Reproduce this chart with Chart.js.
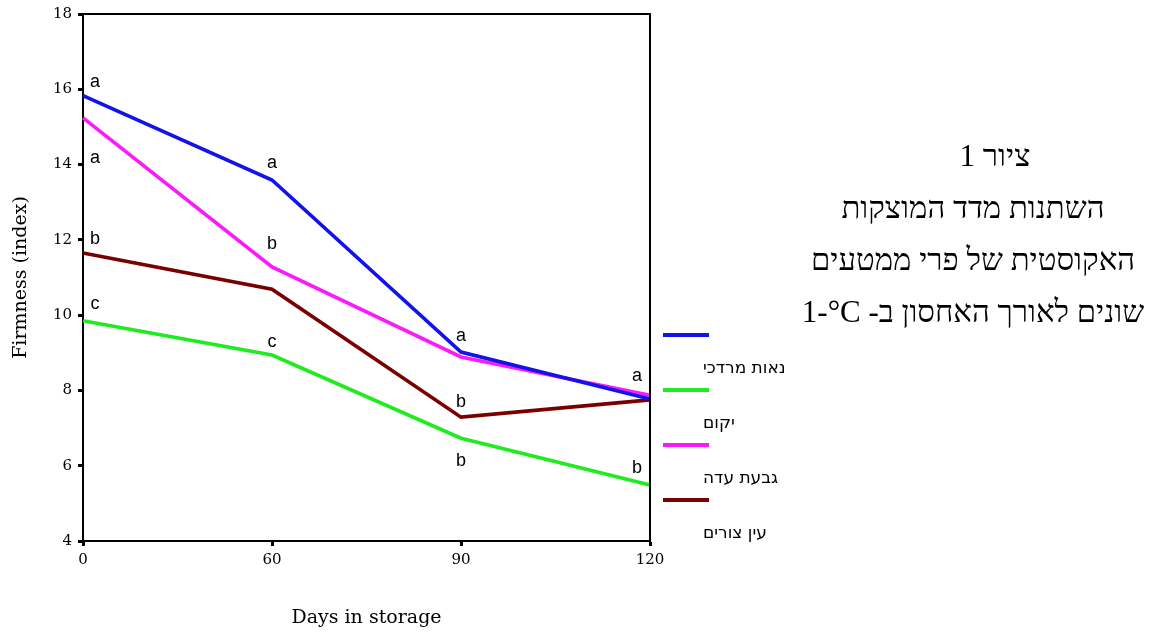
<!DOCTYPE html>
<html lang="he">
<head>
<meta charset="utf-8">
<script src="https://cdn.jsdelivr.net/npm/chart.js@4/dist/chart.umd.min.js"></script>
<style>
html,body{margin:0;padding:0;background:#fff;}
#wrap{position:relative;width:1164px;height:632px;overflow:hidden;}
#Chart{position:absolute;left:0;top:0;}
#titulo{position:absolute;left:723px;top:130px;width:500px;text-align:center;direction:rtl;
  font-family:"Liberation Serif","DejaVu Serif",serif;font-size:31px;line-height:52px;color:#000;}
#titulo .primeira{padding-left:44px;}
#titulo .ltr{direction:ltr;unicode-bidi:isolate;}
</style>
</head>
<body>
<div id="wrap">
  <canvas id="Chart" width="1164" height="632"></canvas>
  <div id="titulo">
    <div class="primeira">ציור 1</div>
    <div>השתנות מדד המוצקות</div>
    <div>האקוסטית של פרי ממטעים</div>
    <div>שונים לאורך האחסון ב- <span class="ltr">1-°C</span></div>
  </div>
</div>
<script>
// dias de armazenamento (eixo x)
const days = ['0', '60', '90', '120']
// valores de firmeza por pomar
const neotMordechai = [15.83, 13.59, 9.02, 7.77]
const yakum = [9.85, 8.94, 6.73, 5.49]
const givatAda = [15.24, 11.28, 8.89, 7.87]
const einTzurim = [11.65, 10.69, 7.29, 7.75]
// ticks do eixo y
const yMin = 4
const yMax = 18
const yStep = 2
// letras de significancia (dia, letra, valor no eixo y)
const letterDay = [0, 0, 0, 0, 1, 1, 1, 2, 2, 2, 3, 3]
const letterText = ['a', 'a', 'b', 'c', 'a', 'b', 'c', 'a', 'b', 'b', 'a', 'b']
const letterY = [16.05, 14.05, 11.9, 10.15, 13.9, 11.75, 9.15, 9.3, 7.55, 6.0, 8.25, 5.8]

const serif = '"DejaVu Serif", "Liberation Serif", serif'

//moldura de cima e da direita
const framePlugin = {
  id: 'moldura',
  afterDraw(chart) {
    const {ctx, chartArea} = chart
    ctx.save()
    ctx.strokeStyle = '#000'
    ctx.lineWidth = 2
    ctx.beginPath()
    ctx.moveTo(chartArea.left, chartArea.top)
    ctx.lineTo(chartArea.right, chartArea.top)
    ctx.lineTo(chartArea.right, chartArea.bottom)
    ctx.stroke()
    ctx.restore()
  }
}

//letras a/b/c junto aos pontos
const lettersPlugin = {
  id: 'letras',
  afterDatasetsDraw(chart) {
    const ctx = chart.ctx
    const sx = chart.scales.x
    const sy = chart.scales.y
    ctx.save()
    ctx.fillStyle = '#000'
    ctx.font = '18px "Liberation Sans", Arial, sans-serif'
    ctx.textAlign = 'center'
    ctx.textBaseline = 'alphabetic'
    for (let i = 0; i < letterText.length; i++) {
      let dx = 0
      if (letterDay[i] == 0) dx = 12
      if (letterDay[i] == days.length - 1) dx = -13
      ctx.fillText(letterText[i], sx.getPixelForValue(letterDay[i]) + dx, sy.getPixelForValue(letterY[i]))
    }
    ctx.restore()
  }
}

//legenda: linha e, embaixo, o nome do pomar
const legendPlugin = {
  id: 'legenda',
  afterDraw(chart) {
    const {ctx, chartArea} = chart
    const x0 = chartArea.right + 13
    chart.data.datasets.forEach((ds, i) => {
      const y = 335 + i * 55
      ctx.save()
      ctx.strokeStyle = ds.borderColor
      ctx.lineWidth = 4
      ctx.beginPath()
      ctx.moveTo(x0, y)
      ctx.lineTo(x0 + 46, y)
      ctx.stroke()
      ctx.fillStyle = '#000'
      ctx.font = '17px "DejaVu Sans", "Liberation Sans", sans-serif'
      ctx.direction = 'rtl'
      ctx.textAlign = 'left'
      ctx.textBaseline = 'middle'
      ctx.fillText(ds.label, x0 + 40, y + 34)
      ctx.restore()
    })
  }
}

const data = {
  labels: days,
  datasets: [
    {label: 'נאות מרדכי', data: neotMordechai, borderColor: '#1212ea'},
    {label: 'יקום', data: yakum, borderColor: '#1eec1e'},
    {label: 'גבעת עדה', data: givatAda, borderColor: '#fa1afa'},
    {label: 'עין צורים', data: einTzurim, borderColor: '#7a0000'}
  ].map(d => Object.assign(d, {borderWidth: 3.6, pointRadius: 0, tension: 0, fill: false}))
}

const axisGrid = {display: true, drawOnChartArea: false, drawTicks: true, tickLength: 5, tickWidth: 3, tickColor: '#000'}

const config = {
  type: 'line',
  data: data,
  options: {
    responsive: false,
    animation: false,
    layout: {padding: {top: 14, right: 514, bottom: 0, left: 0}},
    plugins: {legend: {display: false}, tooltip: {enabled: false}},
    scales: {
      x: {
        offset: false,
        grid: axisGrid,
        border: {display: true, color: '#000', width: 2},
        ticks: {color: '#000', font: {family: serif, size: 15}, padding: 5, maxRotation: 0, autoSkip: false},
        title: {display: true, text: 'Days in storage', color: '#000', font: {family: serif, size: 19}, padding: {top: 0, bottom: 3}},
        afterFit(s) { s.height = 91; s.paddingLeft = 0; s.paddingRight = 0 }
      },
      y: {
        min: yMin,
        max: yMax,
        grid: axisGrid,
        border: {display: true, color: '#000', width: 2},
        ticks: {stepSize: yStep, color: '#000', font: {family: serif, size: 15}, padding: 6},
        title: {display: true, text: 'Firmness (index)', color: '#000', font: {family: serif, size: 19}, padding: {top: 10, bottom: 0}},
        afterFit(s) { s.width = 83; s.paddingTop = 0; s.paddingBottom = 0 }
      }
    }
  },
  plugins: [framePlugin, lettersPlugin, legendPlugin]
}

let myChart = new Chart(document.getElementById('Chart'), config)
</script>
</body>
</html>
